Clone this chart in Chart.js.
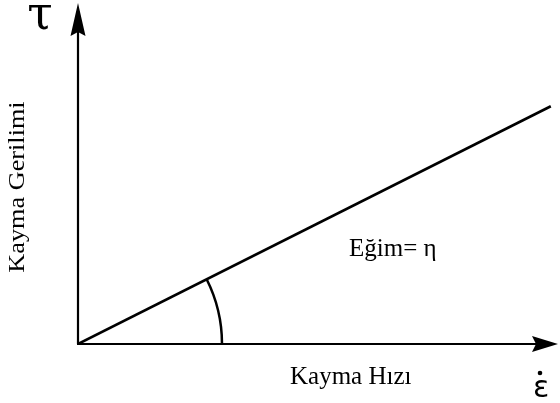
<!DOCTYPE html>
<html>
<head>
<meta charset="utf-8">
<script src="https://cdn.jsdelivr.net/npm/chart.js@4/dist/chart.umd.min.js"></script>
<style>
  html, body { margin: 0; padding: 0; background: #fff; }
  #wrap { width: 560px; height: 403px; }
</style>
</head>
<body>
<div id="wrap"><canvas id="viscosity" width="560" height="403"></canvas></div>
<script>
// Newtonian fluid: shear stress vs. shear rate, straight line through origin
const shearRate = [0, 9.85];
const shearStress = [0, 4.95];
const xRange = [0, 10];
const yRange = [0, 7.1];
const arcRadius = 3.0;            // slope-angle marker, in x units

const yAxisSymbol = 'τ';
const xAxisSymbol = 'ε';
const yAxisTitle = 'Kayma Gerilimi';
const xAxisTitle = 'Kayma Hızı';
const slopeLabel = 'Eğim= η';

const SERIF = '"Liberation Serif", "Times New Roman", serif';

function arrowHead(ctx, tipX, tipY, dirX, dirY, len, half, notch) {
  // dir is a unit vector pointing toward the tip
  const nx = -dirY, ny = dirX;
  const bx = tipX - dirX * len, by = tipY - dirY * len;
  ctx.beginPath();
  ctx.moveTo(tipX, tipY);
  ctx.lineTo(bx + nx * half, by + ny * half);
  ctx.lineTo(bx + dirX * notch, by + dirY * notch);
  ctx.lineTo(bx - nx * half, by - ny * half);
  ctx.closePath();
  ctx.fill();
}

const diagramPlugin = {
  id: 'diagram',
  afterDatasetsDraw(chart) {
    const { ctx, scales: { x, y }, chartArea } = chart;
    const ox = x.getPixelForValue(0);
    const oy = y.getPixelForValue(0);
    ctx.save();
    ctx.strokeStyle = '#000';
    ctx.fillStyle = '#000';
    ctx.lineWidth = 2.2;

    // axes with arrow heads
    ctx.beginPath();
    ctx.moveTo(ox, oy);
    ctx.lineTo(ox, chartArea.top + 20);
    ctx.moveTo(ox - 1, oy);
    ctx.lineTo(chartArea.right - 16, oy);
    ctx.stroke();
    arrowHead(ctx, ox, chartArea.top, 0, -1, 33, 7.5, 4);
    arrowHead(ctx, chartArea.right, oy, 1, 0, 26, 8, 4);

    // angle arc between x axis and the line
    const r = x.getPixelForValue(arcRadius) - ox;
    const ang = Math.atan2(
      oy - y.getPixelForValue(shearStress[1]),
      x.getPixelForValue(shearRate[1]) - ox
    );
    ctx.lineWidth = 2.5;
    ctx.beginPath();
    ctx.arc(ox, oy, r, -ang, 0);
    ctx.stroke();

    // symbols
    ctx.font = '46px "DejaVu Serif", serif';
    ctx.textAlign = 'center';
    ctx.textBaseline = 'alphabetic';
    ctx.fillText(yAxisSymbol, 40, 29);
    ctx.font = '30px "DejaVu Sans", sans-serif';
    ctx.fillText(xAxisSymbol, 541, 397);
    ctx.beginPath();
    ctx.arc(540, 373, 2.3, 0, Math.PI * 2);
    ctx.fill();

    // titles
    ctx.font = '25px ' + SERIF;
    ctx.textAlign = 'left';
    ctx.fillText(xAxisTitle, 290, 384);
    ctx.fillText(slopeLabel, 349, 256);

    ctx.save();
    ctx.translate(24, 187);
    ctx.rotate(-Math.PI / 2);
    ctx.scale(1.25, 1.05);
    ctx.font = '21px ' + SERIF;
    ctx.textAlign = 'center';
    ctx.fillText(yAxisTitle, 0, 0);
    ctx.restore();

    ctx.restore();
  }
};

new Chart(document.getElementById('viscosity'), {
  type: 'scatter',
  data: {
    datasets: [{
      data: shearRate.map((v, i) => ({ x: v, y: shearStress[i] })),
      showLine: true,
      borderColor: '#000',
      borderWidth: 2.6,
      pointRadius: 0,
      fill: false,
      tension: 0
    }]
  },
  options: {
    responsive: false,
    devicePixelRatio: 1,
    animation: false,
    layout: { padding: { left: 78, right: 2, top: 3, bottom: 59 } },
    plugins: { legend: { display: false }, tooltip: { enabled: false } },
    scales: {
      x: { type: 'linear', min: xRange[0], max: xRange[1], display: false },
      y: { type: 'linear', min: yRange[0], max: yRange[1], display: false }
    }
  },
  plugins: [diagramPlugin]
});
</script>
</body>
</html>
